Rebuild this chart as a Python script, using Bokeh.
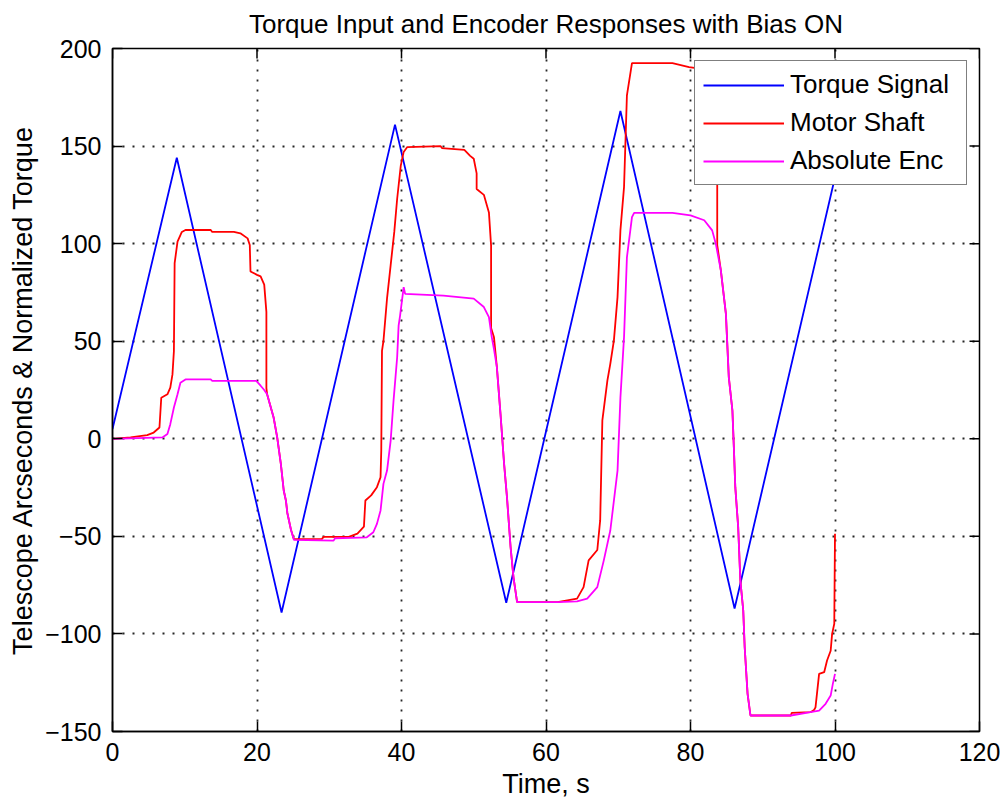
from bokeh.plotting import figure
from bokeh.models import Range1d, FixedTicker
from bokeh.embed import file_html
from bokeh.resources import INLINE

title_text = "Torque Input and Encoder Responses with Bias ON"
x_label = "Time, s"
y_label = "Telescope Arcseconds & Normalized Torque"
x_ticks = [0, 20, 40, 60, 80, 100, 120]
y_ticks = [-150, -100, -50, 0, 50, 100, 150, 200]

series_names = ["Torque Signal", "Motor Shaft", "Absolute Enc"]
series_colors = ["#0000ff", "#ff0000", "#ff00ff"]

torque_t = [0, 8.9, 23.4, 39.1, 54.5, 70.3, 86.1, 100]
torque_v = [5, 144, -89, 161, -84, 168, -87, 134]

motor_t = [0, 2.5, 4.8, 5.7, 6.5, 6.75, 7.6, 8.0, 8.3, 8.5, 8.6, 9.0, 9.6, 10.1, 13.6, 13.8,
           16.8, 17.7, 18.7, 19.0, 19.1, 20.0, 20.5, 21.0, 21.3, 21.3, 21.4, 22.3, 22.8, 23.3,
           23.7, 24.0, 24.2, 24.7, 25.1, 29.0, 29.2, 32.7, 33.9, 34.8, 35.0, 35.8, 36.6, 37.1,
           37.2, 37.3, 37.5, 38.0, 38.5, 39.0, 39.4, 39.9, 40.3, 40.8, 45.4, 45.6, 48.7, 49.5,
           50.0, 50.4, 50.4, 51.4, 52.1, 52.4, 52.4, 52.8, 53.2, 53.7, 54.2, 54.6, 55.1, 55.5,
           56.0, 61.6, 64.3, 65.2, 65.9, 67.1, 67.5, 67.8, 68.5, 68.9, 69.4, 69.9, 70.3, 70.8,
           71.2, 71.9, 77.5, 79.8, 82.5, 83.2, 83.7, 83.7, 84.2, 84.9, 85.3, 85.8, 86.0, 86.2,
           86.6, 86.9, 87.3, 87.5, 87.9, 88.3, 93.9, 94.0, 96.6, 97.1, 97.3, 97.8, 98.5, 98.9,
           99.4, 99.6, 99.9, 100.0]
motor_v = [0, 0.7, 1.9, 3.2, 5.8, 21, 22.8, 26.2, 33, 45, 90, 101, 106, 107, 107, 106,
           106, 105.3, 102.7, 99.3, 85.7, 84, 83.2, 79, 65, 26, 22.8, 10.9, 0.6, -12.9,
           -26.5, -31.6, -38, -46.6, -51.4, -51.3, -50.3, -50.3, -48.6, -45, -31.6, -29, -24.8, -19.7,
           -6, 45, 50, 72, 89, 106, 123, 140, 147, 149.5, 150, 149, 148, 145,
           143.5, 136, 128, 125, 116, 99, 56.8, 52, 36.7, 12.8, -12.8, -30, -55.6, -71,
           -83.7, -83.7, -81.9, -76, -62.3, -57, -41.7, 9.4, 29.9, 38.4, 50.4, 72.6, 106.8, 129,
           176, 192.5, 192.5, 190.5, 189, 185, 178, 99.3, 86.3, 64, 31.6, 14.5, -4.3, -24.8,
           -45.3, -72.6, -88, -106.8, -130.7, -141.8, -141.8, -140.5, -140.1, -139, -137.6, -120.5, -119.6, -113.6,
           -108.6, -100, -94.8, -48.7]

abs_t = [0, 6.9, 7.6, 8.0, 8.5, 9.0, 9.4, 10.1, 13.6, 13.8, 19.9, 20.5, 21.0, 21.4, 22.3,
         22.8, 23.3, 23.7, 24.0, 24.2, 24.7, 25.1, 30.6, 30.8, 35.2, 36.1, 36.6, 37.1, 37.5,
         38.0, 38.5, 38.7, 38.9, 39.4, 39.6, 39.8, 40.3, 40.5, 45.8, 50.0, 51.4, 52.1, 52.5,
         52.8, 53.2, 53.7, 54.2, 54.6, 55.1, 55.5, 56.0, 61.6, 64.3, 65.7, 67.1, 68.0, 68.9,
         69.9, 70.3, 70.8, 71.2, 71.9, 72.2, 77.5, 80.0, 81.9, 83.0, 83.5, 84.2, 84.9, 85.3,
         85.8, 86.0, 86.2, 86.6, 86.9, 87.3, 87.5, 87.9, 88.3, 93.9, 96.6, 97.8, 98.7, 99.4,
         99.7, 100.0]
abs_v = [0, 0.7, 2.4, 7.5, 16, 22.8, 28.7, 30.4, 30.4, 29.7, 29.7, 27.2, 25, 22.8, 10.9,
         0.6, -12.9, -26.5, -31.6, -38, -46.6, -51.8, -52.2, -51, -50.5, -47.9, -43.6, -36.7, -23.1,
         -16.3, -0.9, 9.4, 19.6, 41.8, 58, 63, 77.7, 74.3, 73.4, 71.8, 67.5, 62.3, 52,
         46, 36.7, 12.8, -12.8, -30, -55.6, -71, -83.7, -83.7, -83.3, -81.9, -76, -62.3, -47,
         -16.3, 21, 52, 93, 113.6, 115.8, 115.8, 114.5, 112, 106.8, 100, 86.3, 64, 31.6,
         14.5, -4.3, -24.8, -45.3, -72.6, -88, -106.8, -130.7, -141.8, -141.8, -140.1, -139.3, -135.8, -131.6,
         -125.6, -120.5]

FONT = "Liberation Sans"

p = figure(width=1000, height=801, x_range=Range1d(x_ticks[0], x_ticks[-1]),
           y_range=Range1d(y_ticks[0], y_ticks[-1]),
           output_backend="svg", toolbar_location=None, title=title_text,
           min_border_left=112, min_border_right=21, min_border_top=48, min_border_bottom=70)

p.title.text_font = FONT
p.title.text_font_size = "26px"
p.title.text_font_style = "normal"
p.title.text_color = "black"
p.title.align = "center"
p.title.vertical_align = "top"
p.title.standoff = 16

p.background_fill_color = "white"
p.border_fill_color = "white"
p.outline_line_color = "black"
p.outline_line_width = 1.5

for ax in (p.xaxis[0], p.yaxis[0]):
    ax.major_tick_in = 10
    ax.major_tick_out = 0
    ax.minor_tick_line_color = None
    ax.axis_line_color = "black"
    ax.axis_line_width = 1.5
    ax.major_tick_line_color = "black"
    ax.major_tick_line_width = 1.5
    ax.major_label_text_font = FONT
    ax.major_label_text_font_size = "25px"
    ax.major_label_text_color = "black"
    ax.axis_label_text_font = FONT
    ax.axis_label_text_font_size = "27px"
    ax.axis_label_text_font_style = "normal"
    ax.axis_label_text_color = "black"

p.xaxis[0].ticker = FixedTicker(ticks=x_ticks)
p.yaxis[0].ticker = FixedTicker(ticks=y_ticks)
p.xaxis[0].axis_label = x_label
p.yaxis[0].axis_label = y_label
p.xaxis[0].major_label_standoff = 11
p.xaxis[0].axis_label_standoff = 5
p.yaxis[0].major_label_standoff = 11
p.yaxis[0].axis_label_standoff = 4

# inward ticks on the top and right edges of the box
p.ray(x=x_ticks, y=[y_ticks[-1]] * len(x_ticks), length=10, length_units="screen",
      angle=-90, angle_units="deg", color="black", line_width=1.5)
p.ray(x=[x_ticks[-1]] * len(y_ticks), y=y_ticks, length=10, length_units="screen",
      angle=180, angle_units="deg", color="black", line_width=1.5)

p.xgrid[0].ticker = FixedTicker(ticks=x_ticks)
p.ygrid[0].ticker = FixedTicker(ticks=y_ticks)
for g in (p.xgrid[0], p.ygrid[0]):
    g.grid_line_color = "black"
    g.grid_line_dash = "2 8"
    g.grid_line_width = 1.8
    g.grid_line_alpha = 0.85

p.line(torque_t, torque_v, color=series_colors[0], line_width=1.8, legend_label=series_names[0])
p.line(motor_t, motor_v, color=series_colors[1], line_width=1.8, legend_label=series_names[1])
p.line(abs_t, abs_v, color=series_colors[2], line_width=1.8, legend_label=series_names[2])

lg = p.legend[0]
lg.location = "top_right"
lg.margin = 12
lg.padding = 8
lg.spacing = 7
lg.label_height = 28
lg.label_width = 168
lg.glyph_width = 81
lg.glyph_height = 20
lg.label_standoff = 6
lg.label_text_font = FONT
lg.label_text_font_size = "26px"
lg.label_text_color = "black"
lg.border_line_color = "black"
lg.border_line_width = 1.5
lg.background_fill_color = "white"
lg.background_fill_alpha = 1.0

open("out.html", "w").write(file_html(p, INLINE))
